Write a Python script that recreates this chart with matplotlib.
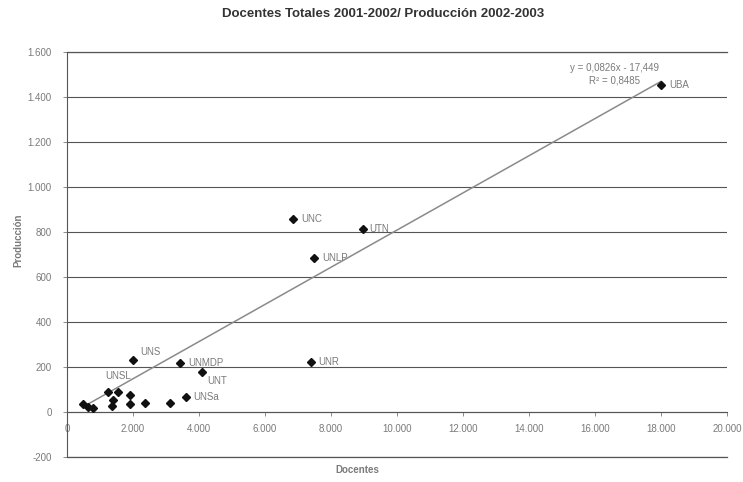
import matplotlib
matplotlib.use("Agg")
import matplotlib.pyplot as plt
from matplotlib.ticker import FuncFormatter

plt.rcParams['font.family'] = ['Liberation Sans', 'DejaVu Sans']

# Data (docentes, producción)
labeled_names = ["UBA", "UNC", "UTN", "UNLP", "UNS", "UNMDP", "UNR", "UNT", "UNSa", "UNSL"]
labeled_x = [18000, 6860, 8960, 7470, 2000, 3420, 7380, 4100, 3620, 1255]
labeled_y = [1455, 860, 812, 686, 230, 220, 222, 180, 67, 89]

other_x = [1540, 1895, 1895, 2370, 3130, 1390, 1360, 495, 647, 800]
other_y = [89, 74, 37, 40, 42, 52, 25, 34, 22, 20]

slope = 0.0826
intercept = -17.449
eq_text = "y = 0,0826x - 17,449"
r2_text = "R² = 0,8485"

title = "Docentes Totales 2001-2002/ Producción 2002-2003"
xlabel = "Docentes"
ylabel = "Producción"

x_ticks = list(range(0, 20001, 2000))
y_ticks = list(range(-200, 1601, 200))

# label offsets in pixels (dx, dy)
offsets = {
    "UBA": (8, 0), "UNC": (8, 0), "UTN": (7, 0), "UNLP": (9, 0),
    "UNS": (7, 8), "UNMDP": (8, 0), "UNR": (8, 0), "UNT": (5, -10),
    "UNSa": (7, 0), "UNSL": (-3, 16),
}

fig = plt.figure(figsize=(7.43, 4.82), dpi=100)
ax = fig.add_axes([67/743, 25/482, 660/743, 405/482])

txt_col = "#7a7a7a"
all_x = labeled_x + other_x
all_y = labeled_y + other_y

ax.plot(all_x, all_y, linestyle="none", marker="D", markersize=3.6,
        color="#111111", zorder=4)

xmin, xmax = min(all_x), max(all_x)
ax.plot([xmin, xmax], [slope*xmin + intercept, slope*xmax + intercept],
        color="#8a8a8a", linewidth=1.1, zorder=3)

for n, x, y in zip(labeled_names, labeled_x, labeled_y):
    dx, dy = offsets[n]
    ax.annotate(n, (x, y), xytext=(dx, dy), textcoords="offset pixels",
                ha="left", va="center", fontsize=7, color=txt_col)

ax.text(16600, 1530, eq_text, ha="center", va="center", fontsize=7, color=txt_col)
ax.text(16600, 1472, r2_text, ha="center", va="center", fontsize=7, color=txt_col)

ax.set_xlim(0, 20000)
ax.set_ylim(-200, 1600)
ax.set_xticks(x_ticks)
ax.set_yticks(y_ticks)

fmt = FuncFormatter(lambda v, p: f"{int(v):,}".replace(",", "."))
ax.xaxis.set_major_formatter(fmt)
ax.yaxis.set_major_formatter(fmt)

ax.grid(axis="y", color="#555555", linewidth=0.8)
ax.grid(axis="x", visible=False)
ax.set_axisbelow(True)
ax.axhline(-200, color="#555555", linewidth=0.9, clip_on=False, zorder=1)
ax.axhline(1600, color="#555555", linewidth=0.9, clip_on=False, zorder=1)

ax.spines["top"].set_visible(False)
ax.spines["right"].set_visible(False)
ax.spines["bottom"].set_position(("data", 0))
ax.spines["bottom"].set_color("#555555")
ax.spines["left"].set_color("#555555")
ax.spines["left"].set_linewidth(0.8)

ax.tick_params(axis="both", labelsize=7, colors=txt_col, length=3, width=0.6)
ax.tick_params(axis="x", direction="out", pad=6)
ax.tick_params(axis="y", direction="out", pad=8)

fig.text(383/743, 1 - 14/482, title, ha="center", va="center",
         fontsize=9.5, fontweight="bold", color="#333333")
fig.text(357/743, 1 - 470/482, xlabel, ha="center", va="center",
         fontsize=7, fontweight="bold", color=txt_col)
fig.text(18/743, 1 - 240/482, ylabel, ha="center", va="center",
         fontsize=7, fontweight="bold", color=txt_col, rotation=90)

fig.savefig("out.png", dpi=100)
